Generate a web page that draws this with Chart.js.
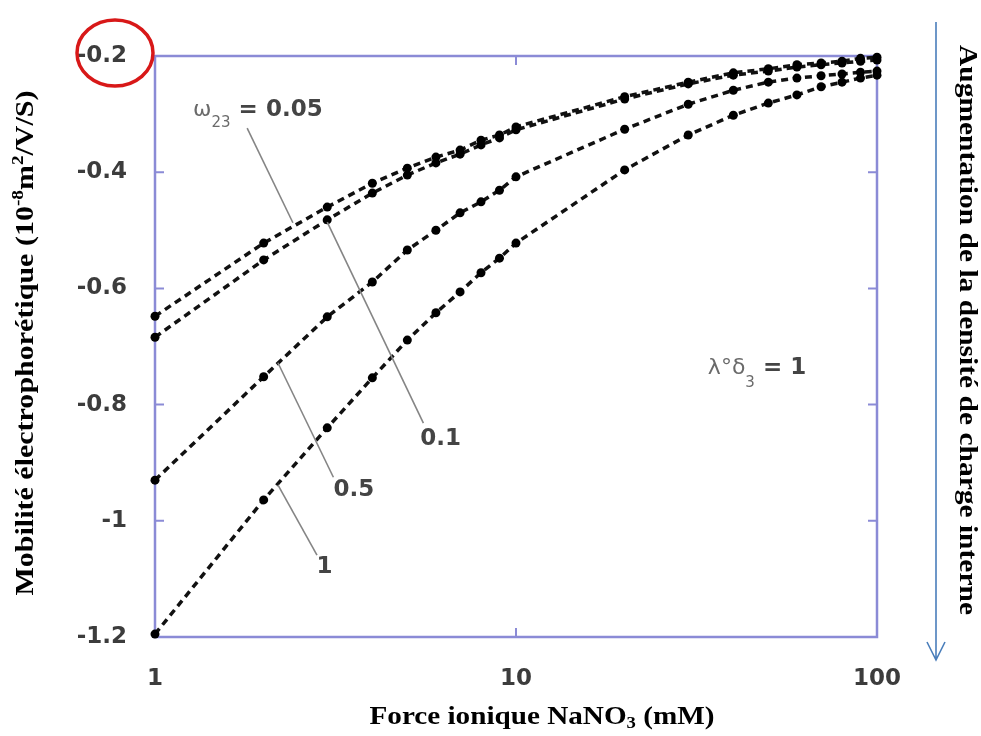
<!DOCTYPE html>
<html>
<head>
<meta charset="utf-8">
<title>Mobilité électrophorétique</title>
<script src="https://cdn.jsdelivr.net/npm/chart.js@4.4.1/dist/chart.umd.min.js"></script>
<style>
  html, body { margin: 0; padding: 0; background: #fff; }
  #wrap { width: 981px; height: 736px; }
</style>
</head>
<body>
<div id="wrap"><canvas id="mobilityChart" width="981" height="736"></canvas></div>
<script>
// Ionic strength (mM) of each computed point
const ionicStrength = [1, 2, 3, 4, 5, 6, 7, 8, 9, 10, 20, 30, 40, 50, 60, 70, 80, 90, 100];

// Electrophoretic mobility (10^-8 m2/V/S), one array per omega23
const mobility005 = [-0.648, -0.522, -0.46, -0.419, -0.393, -0.374, -0.362, -0.345, -0.336, -0.322, -0.27, -0.245, -0.229, -0.222, -0.215, -0.212, -0.209, -0.204, -0.202];
const mobility01 = [-0.684, -0.551, -0.482, -0.436, -0.405, -0.384, -0.369, -0.353, -0.341, -0.327, -0.274, -0.248, -0.233, -0.226, -0.219, -0.215, -0.212, -0.209, -0.207];
const mobility05 = [-0.93, -0.752, -0.649, -0.589, -0.534, -0.5, -0.47, -0.451, -0.431, -0.408, -0.326, -0.283, -0.259, -0.245, -0.238, -0.234, -0.231, -0.228, -0.226];
const mobility1 = [-1.195, -0.964, -0.84, -0.754, -0.689, -0.642, -0.606, -0.573, -0.548, -0.522, -0.396, -0.336, -0.302, -0.281, -0.267, -0.253, -0.245, -0.238, -0.233];

// Tick labels
const xTicks = [1, 10, 100];
const yTicks = [-1.2, -1, -0.8, -0.6, -0.4, -0.2];

// Leader lines from the curve labels (data coordinates)
const leader005 = [{ x: 1.80, y: -0.324 }, { x: 2.41, y: -0.487 }];
const leader01 = [{ x: 3.0, y: -0.486 }, { x: 5.54, y: -0.832 }];
const leader05 = [{ x: 2.19, y: -0.728 }, { x: 3.12, y: -0.925 }];
const leader1 = [{ x: 2.19, y: -0.938 }, { x: 2.81, y: -1.059 }];

const frameColor = "#8b8bd6";
const tickColor = "#3c3c3c";
const greyText = "#6a6a6a";

// Build {x, y} points for a curve
function toPoints(values) {
  return ionicStrength.map((x, i) => ({ x: x, y: values[i] }));
}

function curve(values) {
  return {
    data: toPoints(values),
    borderColor: "#111",
    borderWidth: 3.5,
    borderDash: [7, 5],
    pointRadius: 4.5,
    pointBackgroundColor: "#000",
    pointBorderWidth: 0,
    tension: 0,
    clip: false
  };
}

function leader(points) {
  return {
    data: points,
    borderColor: "#858585",
    borderWidth: 1.6,
    pointRadius: 0,
    tension: 0,
    clip: false
  };
}

// Draw a run of text pieces (with sub/superscripts); width stretches it horizontally
function drawRich(ctx, parts, x, y, opts) {
  let w = 0;
  parts.forEach(p => {
    ctx.font = p.font;
    p.w = ctx.measureText(p.t).width;
    w += p.w;
  });
  const sx = opts.width ? opts.width / w : 1;
  ctx.save();
  ctx.translate(x, y);
  if (opts.rotate) ctx.rotate(opts.rotate);
  ctx.scale(sx, 1);
  let cx = opts.align === "center" ? -w / 2 : 0;
  ctx.textBaseline = "middle";
  ctx.textAlign = "left";
  parts.forEach(p => {
    ctx.font = p.font;
    ctx.fillStyle = p.color;
    ctx.fillText(p.t, cx, p.dy || 0);
    cx += p.w;
  });
  ctx.restore();
}

const sansBold = "bold 23px 'DejaVu Sans'";
const serifBig = "bold 25px 'Liberation Serif'";
const serifSmall = "bold 16px 'Liberation Serif'";

const decorPlugin = {
  id: "decor",
  beforeDatasetsDraw(chart) {
    const { ctx, chartArea: a, scales } = chart;
    ctx.save();
    ctx.strokeStyle = frameColor;
    ctx.lineWidth = 2.5;
    ctx.strokeRect(a.left, a.top, a.right - a.left, a.bottom - a.top);

    // inward tick marks
    ctx.lineWidth = 2;
    ctx.beginPath();
    yTicks.forEach(v => {
      const py = scales.y.getPixelForValue(v);
      ctx.moveTo(a.left, py); ctx.lineTo(a.left + 9, py);
      ctx.moveTo(a.right - 9, py); ctx.lineTo(a.right, py);
    });
    xTicks.forEach(v => {
      const px = scales.x.getPixelForValue(v);
      ctx.moveTo(px, a.bottom); ctx.lineTo(px, a.bottom - 9);
      ctx.moveTo(px, a.top); ctx.lineTo(px, a.top + 9);
    });
    ctx.stroke();
    ctx.restore();
  },
  afterDraw(chart) {
    const { ctx, chartArea: a, scales } = chart;
    const px = v => scales.x.getPixelForValue(v);
    const py = v => scales.y.getPixelForValue(v);

    // curve labels
    drawRich(ctx, [
      { t: "\u03c9", font: "22px 'DejaVu Sans'", color: greyText },
      { t: "23", font: "15px 'DejaVu Sans'", color: greyText, dy: 13 },
      { t: " = 0.05", font: sansBold, color: "#444" }
    ], px(1.275), py(-0.293), {});
    drawRich(ctx, [{ t: "0.1", font: sansBold, color: "#444" }], px(5.43), py(-0.86), {});
    drawRich(ctx, [{ t: "0.5", font: sansBold, color: "#444" }], px(3.12), py(-0.947), {});
    drawRich(ctx, [{ t: "1", font: sansBold, color: "#444" }], px(2.8), py(-1.08), {});
    drawRich(ctx, [
      { t: "\u03bb\u00b0\u03b4", font: "22px 'DejaVu Sans'", color: greyText },
      { t: "3", font: "15px 'DejaVu Sans'", color: greyText, dy: 15 },
      { t: " = 1", font: sansBold, color: "#444" }
    ], px(34), py(-0.737), {});

    // axis titles
    drawRich(ctx, [
      { t: "Mobilit\u00e9 \u00e9lectrophor\u00e9tique (10", font: serifBig, color: "#000" },
      { t: "-8", font: serifSmall, color: "#000", dy: -8 },
      { t: "m", font: serifBig, color: "#000" },
      { t: "2", font: serifSmall, color: "#000", dy: -8 },
      { t: "/V/S)", font: serifBig, color: "#000" }
    ], 27, 343, { rotate: -Math.PI / 2, align: "center", width: 505 });

    drawRich(ctx, [
      { t: "Force ionique NaNO", font: serifBig, color: "#000" },
      { t: "3", font: serifSmall, color: "#000", dy: 6 },
      { t: " (mM)", font: serifBig, color: "#000" }
    ], 542, 718, { align: "center", width: 345 });

    drawRich(ctx, [
      { t: "Augmentation de la densit\u00e9 de charge interne", font: serifBig, color: "#000" }
    ], 966, 330, { rotate: Math.PI / 2, align: "center", width: 570 });

    // arrow on the right
    ctx.save();
    ctx.strokeStyle = "#4a7ebb";
    ctx.lineWidth = 1.6;
    ctx.beginPath();
    ctx.moveTo(936, 22); ctx.lineTo(936, 660);
    ctx.moveTo(927, 642); ctx.lineTo(936, 660); ctx.lineTo(945, 642);
    ctx.stroke();

    // red circle around the top tick label
    ctx.strokeStyle = "#d81818";
    ctx.lineWidth = 3.5;
    ctx.beginPath();
    ctx.ellipse(a.left - 40, py(-0.2) - 3, 38, 33, 0, 0, Math.PI * 2);
    ctx.stroke();
    ctx.restore();
  }
};

document.addEventListener("DOMContentLoaded", function () {
  const ctx = document.getElementById("mobilityChart").getContext("2d");

  new Chart(ctx, {
    type: "line",
    data: {
      datasets: [
        leader(leader005), leader(leader01), leader(leader05), leader(leader1),
        curve(mobility005), curve(mobility01), curve(mobility05), curve(mobility1)
      ]
    },
    options: {
      responsive: false,
      animation: false,
      layout: { padding: { left: 0, top: 56, right: 104, bottom: 0 } },
      plugins: { legend: { display: false }, tooltip: { enabled: false } },
      scales: {
        x: {
          type: "logarithmic",
          min: 1,
          max: 100,
          grid: { display: false },
          border: { display: false },
          afterBuildTicks: scale => { scale.ticks = xTicks.map(v => ({ value: v })); },
          afterFit: scale => {
            scale.height = 99;
            scale.paddingLeft = 0;
            scale.paddingRight = 0;
          },
          ticks: {
            padding: 20,
            color: tickColor,
            font: { family: "DejaVu Sans", size: 23, weight: "bold" },
            callback: v => String(v)
          }
        },
        y: {
          type: "linear",
          min: -1.2,
          max: -0.2,
          grid: { display: false },
          border: { display: false },
          afterBuildTicks: scale => { scale.ticks = yTicks.map(v => ({ value: v })); },
          afterFit: scale => {
            scale.width = 155;
            scale.paddingTop = 0;
            scale.paddingBottom = 0;
          },
          ticks: {
            padding: 20,
            color: tickColor,
            font: { family: "DejaVu Sans", size: 23, weight: "bold" },
            callback: v => String(Number(v.toFixed(1)))
          }
        }
      }
    },
    plugins: [decorPlugin]
  });
});
</script>
</body>
</html>
